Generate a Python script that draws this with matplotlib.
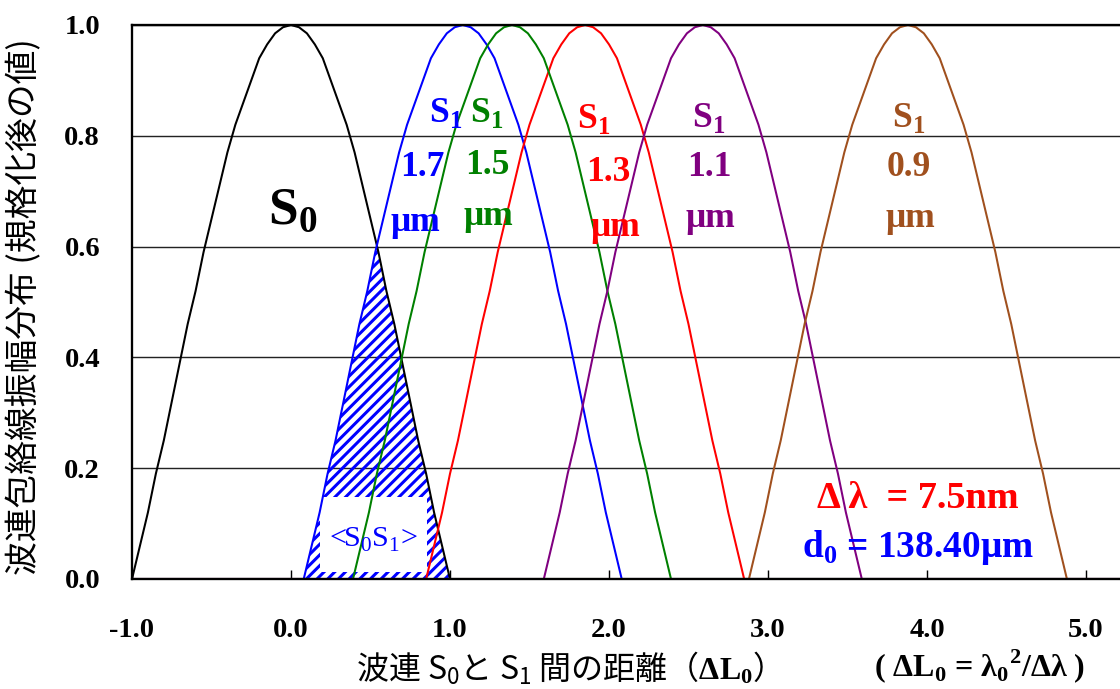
import numpy as np
import matplotlib
matplotlib.use("Agg")
import matplotlib.pyplot as plt
from matplotlib.patches import Rectangle

plt.rcParams['mathtext.fontset'] = 'custom'
plt.rcParams['mathtext.rm'] = 'Liberation Serif'
plt.rcParams['mathtext.bf'] = 'Liberation Serif:bold'
plt.rcParams['mathtext.sf'] = 'Noto Sans CJK JP'
plt.rcParams['hatch.linewidth'] = 1.7

# normalised envelope of one wave packet, sampled against its offset from the centre
profile_offset = [-1.0, -0.95, -0.9, -0.85, -0.8, -0.75, -0.7, -0.65, -0.6, -0.55,
                  -0.5, -0.45, -0.4, -0.35, -0.3, -0.25, -0.2, -0.15, -0.1, -0.05,
                  0.0,
                  0.05, 0.1, 0.15, 0.2, 0.25, 0.3, 0.35, 0.4, 0.45, 0.5,
                  0.55, 0.6, 0.65, 0.7, 0.75, 0.8, 0.85, 0.9, 0.95, 1.0]
profile_value = [0.0, 0.06, 0.12, 0.19, 0.25, 0.32, 0.39, 0.46, 0.52, 0.59,
                 0.65, 0.71, 0.77, 0.82, 0.86, 0.90, 0.94, 0.965, 0.985, 0.996,
                 1.0,
                 0.996, 0.985, 0.965, 0.94, 0.90, 0.86, 0.82, 0.77, 0.71, 0.65,
                 0.59, 0.52, 0.46, 0.39, 0.32, 0.25, 0.19, 0.12, 0.06, 0.0]

# packet centres in units of dL0
s0_center = 0.0
s1_thickness = ['1.7', '1.5', '1.3', '1.1', '0.9']
s1_centers = [1.08, 1.39, 1.85, 2.59, 3.88]
s1_colors = ['#0000FF', '#008000', '#FF0000', '#800080', '#A0501E']
draw_order = [0, 2, 1, 3, 4]

x_ticks = [-1.0, 0.0, 1.0, 2.0, 3.0, 4.0, 5.0]
x_tick_labels = ['-1.0', '0.0', '1.0', '2.0', '3.0', '4.0', '5.0']
y_ticks = [0.0, 0.2, 0.4, 0.6, 0.8, 1.0]
y_tick_labels = ['0.0', '0.2', '0.4', '0.6', '0.8', '1.0']

X_MIN, X_MAX = -1.0, 5.3


def packet(center):
    xs = np.concatenate([[X_MIN], center + np.asarray(profile_offset), [X_MAX]])
    ys = np.concatenate([[0.0], np.asarray(profile_value), [0.0]])
    keep = np.concatenate([[True], np.diff(xs) > 0])
    return xs[keep], ys[keep]


fig = plt.figure(figsize=(1120 / 128, 689 / 128), dpi=128)
ax = fig.add_axes([132 / 1120, 110 / 689, 6.3 * 159 / 1120, 554 / 689])
ax.set_xlim(X_MIN, X_MAX)
ax.set_ylim(0.0, 1.0)

ax.yaxis.grid(True, color='#222222', lw=0.8, zorder=0)
ax.set_axisbelow(True)
for side in ('top', 'left', 'bottom'):
    ax.spines[side].set_linewidth(1.3)
ax.spines['right'].set_visible(False)

serif = 'Liberation Serif'
ax.set_xticks(x_ticks, x_tick_labels, fontsize=16, fontweight='bold', fontfamily=serif)
ax.set_yticks(y_ticks, y_tick_labels, fontsize=16, fontweight='bold', fontfamily=serif)
ax.tick_params(axis='x', direction='in', length=5, width=0.8, pad=22)
ax.tick_params(axis='y', length=0, pad=18)

# overlap of S0 and the 1.7 um S1 packet
bx, by = packet(s0_center)
ux, uy = packet(s1_centers[0])
grid = np.linspace(s1_centers[0] - 1.0, s0_center + 1.0, 400)
overlap = np.minimum(np.interp(grid, bx, by), np.interp(grid, ux, uy))
ax.fill_between(grid, 0, overlap, facecolor='none', edgecolor='#0000FF',
                hatch='////', linewidth=0, zorder=1)
ax.add_patch(Rectangle((0.18, 0.012), 0.675, 0.136, facecolor='white',
                       edgecolor='none', zorder=1.5))
ax.text(0.516, 0.07, r'<S$_0$S$_1$>', color='#0000FF', fontsize=17,
        family=serif, ha='center', va='center', zorder=3)

lw = 1.15
ax.plot(bx, by, color='black', lw=lw, zorder=2)
for i in draw_order:
    px, py = packet(s1_centers[i])
    ax.plot(px, py, color=s1_colors[i], lw=lw, zorder=2)

ax.text(0.013, 0.664, r'S$_\mathbf{0}$', fontsize=30, fontweight='bold',
        family=serif, ha='center', va='center', zorder=3)

s1_label_pos = [
    [(0.975, 0.841), (0.824, 0.742), (0.78, 0.644)],
    [(1.233, 0.841), (1.233, 0.747), (1.239, 0.655)],
    [(1.906, 0.830), (1.994, 0.733), (2.038, 0.635)],
    [(2.629, 0.832), (2.629, 0.742), (2.635, 0.650)],
    [(3.887, 0.832), (3.887, 0.742), (3.893, 0.650)],
]
for i, (p_s, p_num, p_um) in enumerate(s1_label_pos):
    kw = dict(color=s1_colors[i], fontsize=20, fontweight='bold', family=serif,
              ha='center', va='center', zorder=3)
    ax.text(*p_s, r'S$_\mathbf{1}$', **kw)
    ax.text(*p_num, s1_thickness[i], **kw)
    ax.text(*p_um, 'μm', **kw)

ax.text(3.943, 0.146, 'Δ λ  = 7.5nm', color='#FF0000', fontsize=21.5,
        fontweight='bold', family=serif, ha='center', va='center', zorder=3)
ax.text(3.943, 0.056, r'd$_\mathbf{0}$ = 138.40μm', color='#0000FF', fontsize=21,
        fontweight='bold', family=serif, ha='center', va='center', zorder=3)

fig.text(560 / 1120, 1 - 668 / 689,
         r'波連 S$_\mathsf{0}$と S$_\mathsf{1}$ 間の距離（$\mathbf{ΔL_0}$）',
         fontsize=18, family=['Noto Sans CJK JP', 'DejaVu Sans'],
         ha='center', va='center')
fig.text(980 / 1120, 1 - 666 / 689, r'( ΔL$_\mathbf{0}$ = λ$_\mathbf{0}$$^\mathbf{2}$/Δλ )',
         fontsize=18, fontweight='bold', family=serif, ha='center', va='center')
fig.text(25 / 1120, 1 - 307 / 689, '波連包絡線振幅分布 (規格化後の値)',
         fontsize=19, family=['Noto Sans CJK JP', 'DejaVu Sans'],
         rotation=90, ha='center', va='center')

fig.savefig('out.png', dpi=128)
